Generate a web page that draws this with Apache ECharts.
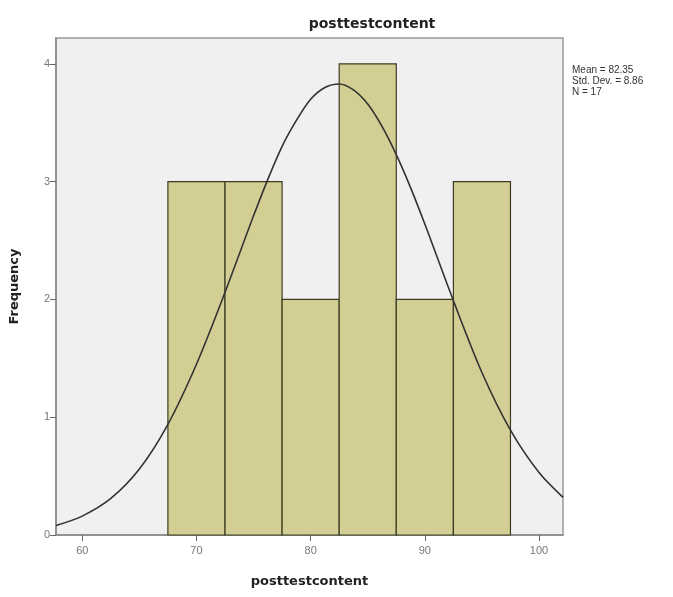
<!DOCTYPE html>
<html><head><meta charset="utf-8">
<script src="https://cdn.jsdelivr.net/npm/echarts@6/dist/echarts.min.js"></script>
<style>html,body{margin:0;padding:0;background:#fff}#c{width:673px;height:597px}</style>
</head><body><div id="c"></div>
<script>
const binStarts = [67.5, 72.5, 77.5, 82.5, 87.5, 92.5];
const binWidth = 5;
const frequencies = [3, 3, 2, 4, 2, 3];
const curveX = [57.7, 60, 62.5, 65, 67.5, 70, 72.5, 75, 76.25, 77.5, 78.75, 80, 81.25, 82.5, 83.75, 85, 86.25, 87.5, 88.75, 90, 92.5, 95, 97.5, 100, 102.1];
const curveY = [0.08, 0.16, 0.31, 0.56, 0.94, 1.45, 2.06, 2.71, 3.02, 3.30, 3.52, 3.70, 3.80, 3.83, 3.78, 3.66, 3.47, 3.23, 2.95, 2.64, 1.99, 1.38, 0.89, 0.53, 0.32];
const xTicks = [60, 70, 80, 90, 100];
const yTicks = [0, 1, 2, 3, 4];
const statsText = ['Mean = 82.35', 'Std. Dev. = 8.86', 'N = 17'];

const chart = echarts.init(document.getElementById('c'), null, {renderer: 'canvas'});
const barData = binStarts.map((s, i) => [s, s + binWidth, frequencies[i]]);
const curveData = curveX.map((x, i) => [x, curveY[i]]);

chart.setOption({
  animation: false,
  backgroundColor: '#fff',
  title: {
    text: 'posttestcontent', left: 367, top: 12, textAlign: 'center',
    textStyle: {fontFamily: 'DejaVu Sans', fontWeight: 'bold', fontSize: 14, color: '#222'}
  },
  grid: {left: 55, right: 110, top: 38, bottom: 62, show: true, backgroundColor: '#f0f0f0', borderColor: '#999', borderWidth: 1.5},
  xAxis: {
    type: 'value', min: 57.7, max: 102.1,
    name: 'posttestcontent', nameLocation: 'middle', nameGap: 40,
    nameTextStyle: {fontFamily: 'DejaVu Sans', fontWeight: 'bold', fontSize: 13, color: '#222'},
    axisLine: {show: true, onZero: false, lineStyle: {color: '#888', width: 1.5}},
    axisTick: {show: true, length: 6, lineStyle: {color: '#666'}, customValues: xTicks},
    axisLabel: {customValues: xTicks, color: '#777', fontFamily: 'Liberation Sans', fontSize: 11, margin: 10},
    splitLine: {show: false}
  },
  yAxis: {
    type: 'value', min: 0, max: 4.22,
    name: 'Frequency', nameLocation: 'middle', nameGap: 35, nameRotate: 90,
    nameTextStyle: {fontFamily: 'DejaVu Sans', fontWeight: 'bold', fontSize: 13, color: '#222'},
    axisLine: {show: true, lineStyle: {color: '#888', width: 1.5}},
    axisTick: {show: true, length: 6, lineStyle: {color: '#666'}, customValues: yTicks},
    axisLabel: {customValues: yTicks, color: '#777', fontFamily: 'Liberation Sans', fontSize: 11, margin: 6},
    splitLine: {show: false}
  },
  graphic: statsText.map((t, i) => ({
    type: 'text', left: 572, top: 65 + i * 11,
    style: {text: t, fontFamily: 'Liberation Sans', fontSize: 10, fill: '#333'}
  })),
  series: [
    {
      type: 'custom', data: barData,
      encode: {x: [0, 1], y: 2},
      renderItem: function (params, api) {
        const p0 = api.coord([api.value(0), 0]);
        const p1 = api.coord([api.value(1), api.value(2)]);
        return {
          type: 'rect',
          shape: {x: p0[0], y: p1[1], width: p1[0] - p0[0], height: p0[1] - p1[1]},
          style: {fill: '#d3ce93', stroke: '#3c3c22', lineWidth: 1.2}
        };
      },
      z: 2
    },
    {
      type: 'line', data: curveData, smooth: 0.3, symbol: 'none',
      lineStyle: {color: '#333', width: 1.6}, z: 3
    }
  ]
});
</script></body></html>
